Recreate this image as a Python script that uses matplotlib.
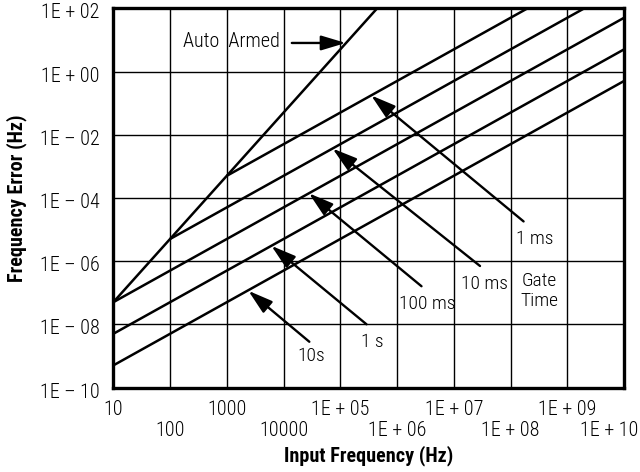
import matplotlib
matplotlib.use("Agg")
import matplotlib.pyplot as plt
from matplotlib.ticker import NullLocator
from matplotlib.transforms import ScaledTranslation

plt.rcParams['font.family'] = ['Roboto Condensed', 'DejaVu Sans']
plt.rcParams['font.stretch'] = 'condensed'

# ---- data ----
x_ticks_top = [10, 1e3, 1e5, 1e7, 1e9]
x_labels_top = ['10', '1000', '1E + 05', '1E + 07', '1E + 09']
x_ticks_bot = [100, 1e4, 1e6, 1e8, 1e10]
x_labels_bot = ['100', '10000', '1E + 06', '1E + 08', '1E + 10']
y_ticks = [1e2, 1e0, 1e-2, 1e-4, 1e-6, 1e-8, 1e-10]
y_labels = ['1E + 02', '1E + 00', '1E \u2013 02', '1E \u2013 04', '1E \u2013 06', '1E \u2013 08', '1E \u2013 10']

series = ['Auto Armed', '1 ms', '10 ms', '100 ms', '1 s', '10s']
x_start = [10, 1000, 100, 10, 10, 10]
y_start = [5e-8, 5e-4, 5e-6, 5e-8, 5e-9, 5e-10]
x_end = [4.47e5, 2e8, 2e9, 1e10, 1e10, 1e10]
y_end = [100, 100, 100, 50, 5, 0.5]

tail_x = [1.4e4, 1.7e8, 2.9e7, 2.7e6, 2.9e5, 2.85e4]
tail_y = [8, 1.8e-5, 7e-7, 1.6e-7, 1.0e-8, 2.8e-9]
tip_x = [1.25e5, 3.5e5, 7.3e4, 2.8e4, 6.1e3, 2.4e3]
tip_y = [8, 0.175, 3.65e-3, 1.4e-4, 3.05e-6, 1.15e-7]

label_x = [8.6e3, 2.7e8, 3.5e7, 3.4e6, 3.6e5, 3.1e4]
label_y = [10, 5.8e-6, 2.2e-7, 4.9e-8, 3.2e-9, 1.15e-9]
gate_text = 'Gate\nTime'
gate_x, gate_y = 3.2e8, 1.1e-7

# ---- figure ----
fig = plt.figure(figsize=(6.4, 4.72), dpi=100)
ax = fig.add_axes([113.3 / 640, 1 - 387.5 / 472, (624 - 113.3) / 640, (387.5 - 8.3) / 472])
ax.set_xscale('log')
ax.set_yscale('log')
ax.set_xlim(10, 1e10)
ax.set_ylim(1e-10, 1e2)

for xs, ys, xe, ye in zip(x_start, y_start, x_end, y_end):
    ax.plot([xs, xe], [ys, ye], color='black', lw=1.8, solid_capstyle='butt', zorder=3)

for tx, ty, hx, hy in zip(tail_x, tail_y, tip_x, tip_y):
    ax.annotate('', xy=(hx, hy), xytext=(tx, ty),
                arrowprops=dict(arrowstyle='-|>,head_length=1.5,head_width=0.45',
                                mutation_scale=10, lw=1.7, color='black',
                                shrinkA=0, shrinkB=0), zorder=4)

fs = 14.5
tw = 'light'
ax.text(label_x[0], label_y[0], series[0].replace(' ', '  '), ha='right', va='center_baseline',
        fontsize=fs, fontweight=tw)
for name, lx, ly in zip(series[1:], label_x[1:], label_y[1:]):
    ax.text(lx, ly, name, ha='center', va='center_baseline', fontsize=fs - 0.5, fontweight=tw)
ax.text(gate_x, gate_y, gate_text, ha='center', va='center', fontsize=fs - 0.5, fontweight=tw,
        linespacing=1.15)

# ticks
ax.set_xticks(x_ticks_top, x_labels_top)
ax.set_xticks(x_ticks_bot, x_labels_bot, minor=True)
ax.set_yticks(y_ticks, y_labels)
ax.yaxis.set_minor_locator(NullLocator())
ax.tick_params(axis='x', which='major', length=0, pad=9, labelsize=fs)
ax.tick_params(axis='x', which='minor', length=0, pad=24, labelsize=fs)
ax.tick_params(axis='y', which='major', length=0, pad=10, labelsize=fs)
for lbl in ax.get_xticklabels(which='both'):
    lbl.set_fontweight(tw)
for lbl in ax.get_yticklabels():
    lbl.set_fontweight(tw)
    lbl.set_transform(lbl.get_transform() + ScaledTranslation(0, -0.025, fig.dpi_scale_trans))
last = ax.xaxis.get_minor_ticks()[-1].label1
last.set_transform(last.get_transform() + ScaledTranslation(-0.15, 0, fig.dpi_scale_trans))

ax.grid(True, which='both', axis='x', color='black', lw=1.0)
ax.grid(True, which='major', axis='y', color='black', lw=1.0)
ax.set_axisbelow(True)
for sp in ax.spines.values():
    sp.set_linewidth(2.4)
    sp.set_zorder(5)

fig.text(16.7 / 640, 1 - 198 / 472, 'Frequency Error (Hz)', rotation=90,
         ha='center', va='center', fontsize=fs, fontweight='bold')
fig.text(368.7 / 640, 1 - 456 / 472, 'Input Frequency (Hz)',
         ha='center', va='center', fontsize=fs, fontweight='bold')

fig.savefig('out.png', dpi=100)
